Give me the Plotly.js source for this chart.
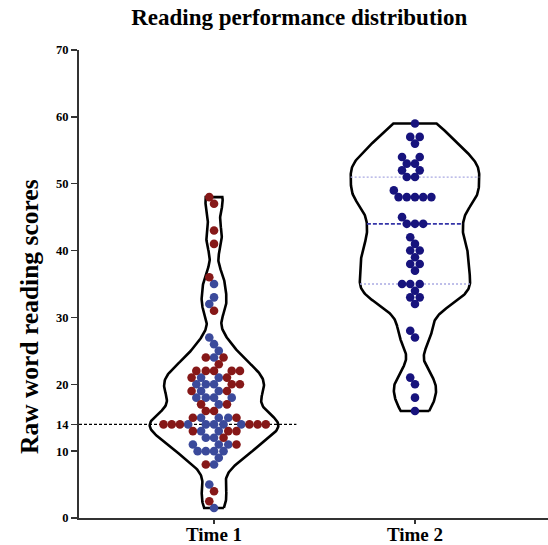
<!DOCTYPE html>
<html><head><meta charset="utf-8">
<script src="https://cdn.plot.ly/plotly-3.0.1.min.js"></script>
<style>html,body{margin:0;padding:0;background:#fff}</style>
</head><body><div id="chart" style="width:548px;height:545px"></div>
<script>
// ---------- data ----------
const categories = ['Time 1', 'Time 2'];
const time1Red = [48,47,43,41,36,31,24,24,23,22,22,22,22,22,21,21,20,20,19,19,17,17,16,16,15,15,
                  14,14,14,14,14,14,13,13,13,12,11,8,4,2.5];
const time1Blue = [35,33,32,27,26,25,24,21,21,20,20,20,19,19,18,18,18,18,17,15,15,15,
                   14,14,14,14,14,13,13,12,12,11,11,11,10,10,10,10,9,8,5,1.5];
const time2 = [59,57,57,56,54,54,53,53,52,52,51,51,49,48,48,48,48,48,45,44,44,44,42,41,40,40,39,
               38,38,37,35,35,35,34,33,33,32,28,27,21,20,18,16];
const cutoffScore = 14;
const yTicks = [0,10,14,20,30,40,50,60,70];
const yTickText = yTicks.map(String);

// ---------- styling / geometry ----------
const W = 548, H = 545;
const M = {l: 79, r: 0, t: 50, b: 27};
const xRange = [-0.672, 1.662], yRange = [0, 70];
const pxPerX = (W - M.l - M.r) / (xRange[1] - xRange[0]);
const pxPerY = (H - M.t - M.b) / (yRange[1] - yRange[0]);
const maxHalf = 0.32;
const bw = [1.7, 2.2];       // kernel bandwidths
const shapeExp = [0.8, 1];   // outline shaping exponent
const dotD = 8.2;
const RED = '#861818', BLUE = '#3b4a9b', NAVY = '#17137d';
const serif = 'Liberation Serif, Times New Roman, serif';

function kde(vals, h, n, ex) {
  const lo = Math.min(...vals), hi = Math.max(...vals);
  const ys = [], ds = [];
  for (let k = 0; k <= n; k++) {
    const y = lo + (hi - lo) * k / n;
    let s = 0;
    for (const v of vals) s += Math.exp(-0.5 * ((y - v) / h) ** 2);
    ys.push(y); ds.push(s);
  }
  const m = Math.max(...ds);
  return {ys, w: ds.map(d => Math.pow(d / m, ex))};
}
function widthAt(k, y) {
  for (let i = 1; i < k.ys.length; i++) {
    if (k.ys[i] >= y) {
      const t = (y - k.ys[i-1]) / (k.ys[i] - k.ys[i-1]);
      return k.w[i-1] + t * (k.w[i] - k.w[i-1]);
    }
  }
  return k.w[k.w.length - 1];
}
function violinTrace(vals, center, h, ex) {
  const k = kde(vals, h, 300, ex);
  const xs = [], ys = [];
  for (let i = 0; i < k.ys.length; i++) { xs.push(center + k.w[i] * maxHalf); ys.push(k.ys[i]); }
  for (let i = k.ys.length - 1; i >= 0; i--) { xs.push(center - k.w[i] * maxHalf); ys.push(k.ys[i]); }
  xs.push(xs[0]); ys.push(ys[0]);
  return {k, trace: {x: xs, y: ys, type: 'scatter', mode: 'lines', hoverinfo: 'skip',
    line: {color: '#000', width: 2.6}, showlegend: false}};
}
function beeswarm(values) {
  const idx = values.map((v, i) => i).sort((a, b) => values[a] - values[b] || a - b);
  const placed = [], out = new Array(values.length);
  const d2 = dotD * dotD;
  for (const i of idx) {
    const y = values[i] * pxPerY;
    const near = placed.filter(p => Math.abs(p.y - y) < dotD);
    const cands = [0];
    for (const p of near) {
      const dx = Math.sqrt(d2 - (p.y - y) ** 2);
      cands.push(p.x + dx, p.x - dx);
    }
    cands.sort((a, b) => Math.abs(a) - Math.abs(b) || a - b);
    let x = 0;
    for (const c of cands) {
      if (near.every(p => (p.x - c) ** 2 + (p.y - y) ** 2 >= d2 - 1e-6)) { x = c; break; }
    }
    placed.push({x, y}); out[i] = x;
  }
  return out;
}
function quantile(vals, p) {
  const s = [...vals].sort((a, b) => a - b);
  const pos = (s.length + 1) * p - 1;
  const lo = Math.floor(pos), t = pos - lo;
  return s[lo] + t * ((s[lo + 1] ?? s[lo]) - s[lo]);
}

const traces = [];
const v1 = violinTrace(time1Red.concat(time1Blue), 0, bw[0], shapeExp[0]);
const v2 = violinTrace(time2, 1, bw[1], shapeExp[1]);
traces.push(v1.trace, v2.trace);

// cutoff line at 14 for Time 1
traces.push({x: [xRange[0], 0.41], y: [cutoffScore, cutoffScore], type: 'scatter', mode: 'lines',
  hoverinfo: 'skip', showlegend: false, line: {color: '#000', width: 1.3, dash: '3px,2px'}});

// Time 2 median & quartiles
const q = [quantile(time2, 0.25), quantile(time2, 0.5), quantile(time2, 0.75)];
q.forEach((qv, i) => {
  const hw = widthAt(v2.k, qv) * maxHalf;
  traces.push({x: [1 - hw, 1 + hw], y: [qv, qv], type: 'scatter', mode: 'lines', hoverinfo: 'skip',
    showlegend: false,
    line: i === 1 ? {color: '#3434a8', width: 1.6, dash: '4px,2px'}
                  : {color: '#a9a9e2', width: 1.3, dash: '2px,2px'}});
});

// Time 1 dots (blue first so that they take central spots)
const t1vals = time1Blue.concat(time1Red);
const t1cols = time1Blue.map(() => BLUE).concat(time1Red.map(() => RED));
const t1off = beeswarm(t1vals);
traces.push({x: t1off.map(o => 0 + o / pxPerX), y: t1vals, type: 'scatter', mode: 'markers',
  showlegend: false, marker: {size: dotD + 0.4, color: t1cols, line: {width: 0}}});
const t2off = beeswarm(time2);
traces.push({x: t2off.map(o => 1 + o / pxPerX), y: time2, type: 'scatter', mode: 'markers',
  showlegend: false, marker: {size: dotD + 0.4, color: NAVY, line: {width: 0}}});

const layout = {
  width: W, height: H, margin: M,
  paper_bgcolor: '#fff', plot_bgcolor: '#fff',
  title: {text: 'Reading performance distribution', xref: 'container', yref: 'container',
    x: 0.546, y: 0.968, xanchor: 'center', yanchor: 'middle',
    font: {family: serif, size: 23, weight: 'bold', color: '#000'}},
  xaxis: {range: xRange, tickvals: [0, 1], ticktext: categories, showgrid: false, zeroline: false,
    showline: true, linecolor: '#333', linewidth: 2, ticks: 'outside', ticklen: 4, tickwidth: 1.5,
    tickcolor: '#333', ticklabelstandoff: -6,
    tickfont: {family: serif, size: 19, weight: 'bold', color: '#000'}},
  yaxis: {range: yRange, tickvals: yTicks, ticktext: yTickText, showgrid: false, zeroline: false,
    showline: true, linecolor: '#333', linewidth: 2, ticks: 'outside', ticklen: 6, tickwidth: 1.5,
    tickcolor: '#333', tickfont: {family: serif, size: 12.5, weight: 'bold', color: '#000'}},
  annotations: [{text: 'Raw word reading scores', xref: 'paper', yref: 'paper',
    x: (29 - M.l) / (W - M.l - M.r), y: (H - M.b - 317) / (H - M.t - M.b),
    xanchor: 'center', yanchor: 'middle', textangle: -90, showarrow: false,
    font: {family: serif, size: 25.5, weight: 'bold', color: '#000'}}]
};
Plotly.newPlot('chart', traces, layout, {displayModeBar: false, staticPlot: true});
</script></body></html>
